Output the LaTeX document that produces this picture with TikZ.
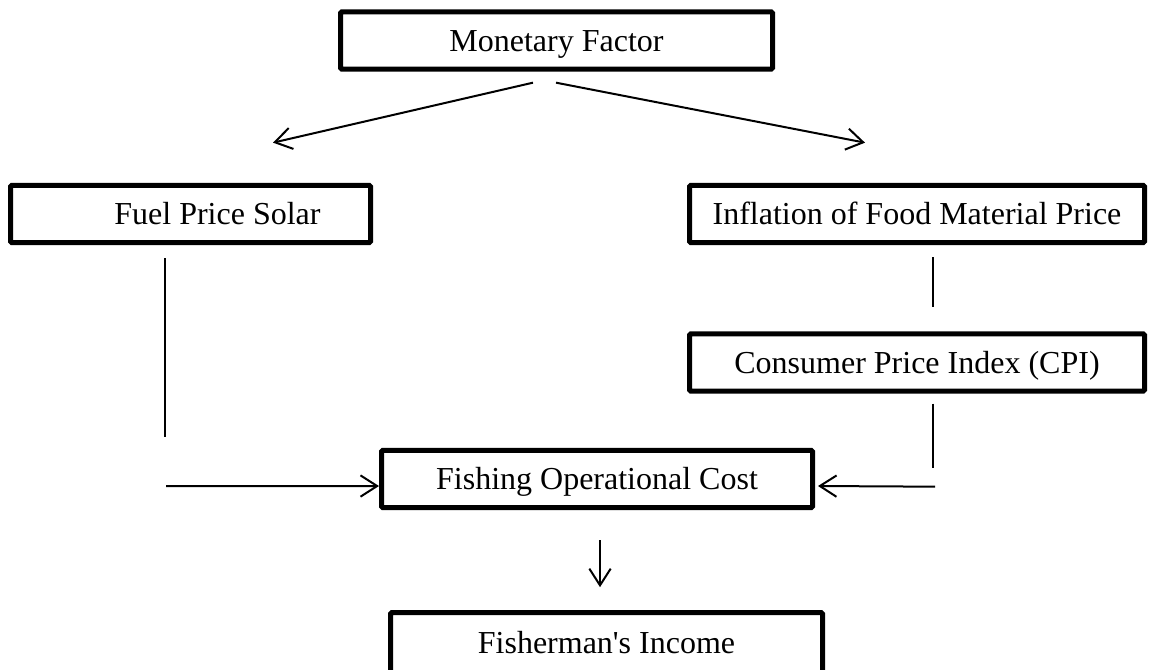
\documentclass[tikz,border=0pt]{standalone}
\usepackage{fontspec}
\setmainfont{Liberation Serif}
\usetikzlibrary{arrows.meta}
\begin{document}
\begin{tikzpicture}[x=0.75pt,y=-0.75pt,
  factor/.style={draw,line width=3.75pt,rounded corners=1pt,minimum height=43pt,inner sep=0pt,
    font=\fontsize{24}{29}\selectfont,text height=16pt,text depth=0pt},
  link/.style={line width=1.5pt,-{Straight Barb[length=12.5pt,width=16pt,line width=1.5pt]}},
  stem/.style={line width=2.2pt}]
\clip (0,0) rectangle (1151,669);
% boxes
\node[factor,minimum width=324pt] (MON) at (556.5,40.5) {Monetary Factor};
\node[factor,minimum width=270pt] (FUEL) at ([shift={+(-366,173.5)}]MON) {\hspace*{40.5pt}Fuel Price Solar};
\node[factor,minimum width=341.25pt] (INFL) at ([shift={+(726.5,0)}]FUEL) {Inflation of Food Material Price};
\node[factor,minimum width=341.25pt] (CPI) at ([shift={+(0,148.5)}]INFL) {Consumer Price Index (CPI)};
\node[factor,minimum width=323.25pt] (COST) at ([shift={+(40.5,438.5)}]MON) {Fishing Operational Cost};
\node[factor,minimum width=324pt,minimum height=45pt] (INC) at ([shift={+(9.5,163.5)}]COST) {Fisherman\textquotesingle s Income};

% monetary factor splits
\coordinate (startL_MON) at ([shift={+(-23.5,11)}]MON.south);
\coordinate (endL_MON) at ([shift={+(-283.5,71)}]MON.south);
\coordinate (startR_MON) at ([shift={+(-0.5,11)}]MON.south);
\coordinate (endR_MON) at ([shift={+(308.5,71)}]MON.south);
\draw[link] (startL_MON)--(endL_MON);
\draw[link] (startR_MON)--(endR_MON);

% left branch
\coordinate (start_FUEL) at ([shift={+(-25.5,13)}]FUEL.south);
\coordinate (end_FUEL) at ([shift={+(-25.5,192)}]FUEL.south);
\draw[stem] (start_FUEL)--(end_FUEL);
\coordinate (start_L) at ([shift={+(1,49)}]end_FUEL);
\coordinate (end_L) at ([shift={+(0,7)}]COST.west);
\draw[link] (start_L)--(end_L);

% right branch
\coordinate (start_INFL) at ([shift={+(16,12)}]INFL.south);
\coordinate (end_INFL) at ([shift={+(16,62)}]INFL.south);
\draw[stem] (start_INFL)--(end_INFL);
\coordinate (start_CPI) at ([shift={+(16,10)}]CPI.south);
\coordinate (end_CPI) at ([shift={+(16,74)}]CPI.south);
\draw[stem] (start_CPI)--(end_CPI);
\coordinate (start_R) at ([shift={+(2,19)}]end_CPI);
\coordinate (end_R) at ([shift={+(3,7)}]COST.east);
\draw[link] (start_R)--(end_R);

% to income
\coordinate (start_INC) at ([shift={+(3,30)}]COST.south);
\coordinate (end_INC) at ([shift={+(3,77)}]COST.south);
\draw[link] (start_INC)--(end_INC);
\end{tikzpicture}
\end{document}
